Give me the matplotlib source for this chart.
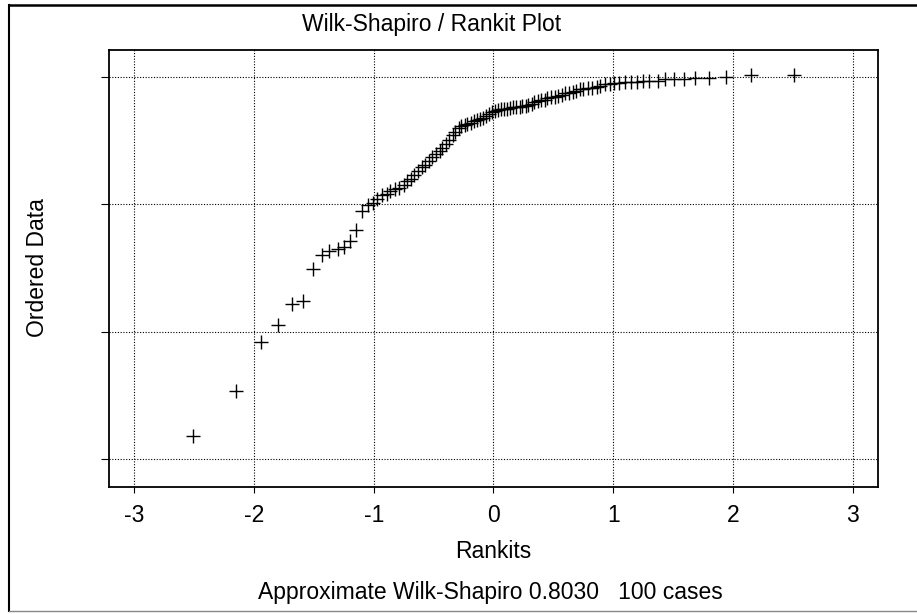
import numpy as np
import matplotlib
matplotlib.use('Agg')
import matplotlib.pyplot as plt
from matplotlib.lines import Line2D

# rankits (expected normal order statistics, n=100)
rankits = [-2.51, -2.15, -1.94, -1.80, -1.68, -1.59, -1.51, -1.43, -1.37, -1.30,
           -1.25, -1.20, -1.15, -1.10, -1.05, -1.01, -0.97, -0.93, -0.89, -0.86,
           -0.82, -0.79, -0.75, -0.72, -0.69, -0.66, -0.63, -0.60, -0.57, -0.54,
           -0.51, -0.48, -0.45, -0.43, -0.40, -0.37, -0.34, -0.32, -0.29, -0.27,
           -0.24, -0.22, -0.19, -0.16, -0.14, -0.11, -0.09, -0.06, -0.04, -0.01,
           0.01, 0.04, 0.06, 0.09, 0.11, 0.14, 0.16, 0.19, 0.22, 0.24,
           0.27, 0.29, 0.32, 0.34, 0.37, 0.40, 0.43, 0.45, 0.48, 0.51,
           0.54, 0.57, 0.60, 0.63, 0.66, 0.69, 0.72, 0.75, 0.79, 0.82,
           0.86, 0.89, 0.93, 0.97, 1.01, 1.05, 1.10, 1.15, 1.20, 1.25,
           1.30, 1.37, 1.43, 1.51, 1.59, 1.68, 1.80, 1.94, 2.15, 2.51]

# ordered data (arbitrary units)
ordered = [0.18, 0.53, 0.92, 1.05, 1.22, 1.24, 1.49, 1.60, 1.63, 1.65,
           1.66, 1.71, 1.80, 1.95, 1.99, 2.01, 2.04, 2.07, 2.08, 2.10,
           2.12, 2.13, 2.15, 2.18, 2.20, 2.23, 2.26, 2.29, 2.31, 2.34,
           2.37, 2.39, 2.42, 2.44, 2.47, 2.50, 2.54, 2.57, 2.60, 2.61,
           2.62, 2.63, 2.64, 2.65, 2.66, 2.67, 2.68, 2.69, 2.71, 2.72,
           2.73, 2.74, 2.745, 2.75, 2.75, 2.755, 2.76, 2.76, 2.765, 2.77,
           2.77, 2.78, 2.79, 2.80, 2.81, 2.82, 2.82, 2.83, 2.84, 2.84,
           2.85, 2.86, 2.87, 2.87, 2.88, 2.89, 2.90, 2.90, 2.91, 2.91,
           2.92, 2.93, 2.94, 2.94, 2.95, 2.95, 2.96, 2.96, 2.96, 2.97,
           2.97, 2.97, 2.98, 2.98, 2.985, 2.99, 2.99, 3.00, 3.01, 3.01]

xticks = [-3, -2, -1, 0, 1, 2, 3]
yticks = [0, 1, 2, 3]

plt.rcParams['font.family'] = ['Liberation Sans', 'DejaVu Sans']

W, H = 917, 614
fig = plt.figure(figsize=(W / 100, H / 100), dpi=100)
fig.patch.set_facecolor('white')

# axes box in pixels: left 109, right 878, top 50, bottom 487
ax = fig.add_axes([109 / W, 1 - 487 / H, (878 - 109) / W, (487 - 50) / H])
ax.plot(rankits, ordered, linestyle='none', marker='+', color='black',
        markersize=10, markeredgewidth=1.0)

ax.set_xlim(-3.21, 3.21)
ax.set_ylim(-0.22, 3.21)
ax.set_xticks(xticks)
ax.set_xticklabels([str(t) for t in xticks])
ax.set_yticks(yticks)
ax.set_yticklabels([])
ax.grid(True, color='black', linestyle=(0, (1, 1.5)), linewidth=0.8)
ax.tick_params(axis='x', direction='out', length=4, width=0.8, pad=8, labelsize=16.5)
ax.tick_params(axis='y', direction='out', length=6, width=0.8)
for s in ax.spines.values():
    s.set_linewidth(1.3)
    s.set_color('black')

# texts
fig.text(432 / W, 1 - 24.5 / H, 'Wilk-Shapiro / Rankit Plot', ha='center', va='center', fontsize=16.5)
fig.text(37 / W, 1 - 268 / H, 'Ordered Data', ha='center', va='center', rotation=90, fontsize=16.5)
fig.text(493 / W, 1 - 552 / H, 'Rankits', ha='center', va='center', fontsize=16.5)
fig.text(490 / W, 1 - 593 / H, 'Approximate Wilk-Shapiro 0.8030   100 cases',
         ha='center', va='center', fontsize=16.5)

# outer frame
fig.add_artist(Line2D([9 / W, 1.0], [1 - 5 / H, 1 - 5 / H], color='black', linewidth=1.8))
fig.add_artist(Line2D([9 / W, 9 / W], [1 - 5 / H, 1 - 611 / H], color='black', linewidth=1.5))
fig.add_artist(Line2D([9 / W, 1.0], [1 - 611 / H, 1 - 611 / H], color='#888888', linewidth=1.0))

fig.savefig('out.png', dpi=100)
